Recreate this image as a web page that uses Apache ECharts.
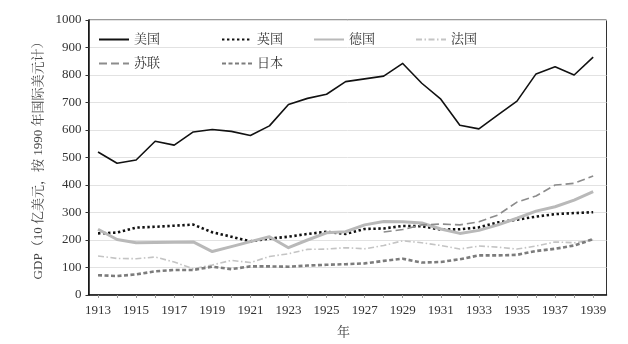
<!DOCTYPE html>
<html>
<head>
<meta charset="utf-8">
<script src="https://cdn.jsdelivr.net/npm/echarts@6/dist/echarts.min.js"></script>
<style>
  html, body { margin: 0; padding: 0; background: #fff; }
  #chart { width: 628px; height: 344px; }
</style>
</head>
<body>
<div id="chart"></div>
<script>
// GDP of six economies, 1913-1939 (billion 1990 international dollars)
const years = [1913, 1914, 1915, 1916, 1917, 1918, 1919, 1920, 1921, 1922, 1923, 1924, 1925, 1926,
               1927, 1928, 1929, 1930, 1931, 1932, 1933, 1934, 1935, 1936, 1937, 1938, 1939];
const labelYears = [1913, 1915, 1917, 1919, 1921, 1923, 1925, 1927, 1929, 1931, 1933, 1935, 1937, 1939];

const usa     = [520, 479, 491, 559, 545, 593, 602, 595, 580, 615, 693, 715, 730, 776, 786, 796, 842, 770, 712, 617, 604, 655, 705, 804, 830, 800, 865];
const uk      = [224, 227, 245, 248, 252, 256, 228, 212, 195, 205, 212, 222, 230, 222, 240, 242, 251, 250, 238, 239, 246, 264, 274, 285, 294, 298, 301];
const germany = [239, 202, 190, 191, 192, 193, 158, 176, 194, 212, 172, 200, 226, 230, 255, 267, 266, 262, 240, 224, 235, 255, 279, 305, 321, 345, 376];
const france  = [142, 133, 132, 138, 120, 95, 109, 126, 118, 140, 150, 166, 167, 172, 168, 180, 197, 190, 180, 167, 178, 174, 167, 178, 193, 190, 200];
const ussr    = [null, null, null, null, null, null, null, null, null, null, null, null, null, null,
                 null, 229, 238, 255, 258, 255, 266, 291, 338, 360, 400, 406, 433];
const japan   = [72, 69, 75, 86, 91, 91, 103, 94, 104, 104, 103, 107, 110, 112, 115, 124, 132, 118, 120, 130, 144, 144, 146, 160, 168, 180, 203];

const yTicks = [0, 100, 200, 300, 400, 500, 600, 700, 800, 900, 1000];

const FONT = '"Liberation Serif", "Noto Serif CJK SC", "Noto Sans CJK SC", serif';

function pairs(values) {
  return years.map((y, i) => [y, values[i]]);
}

const seriesDefs = [
  { name: '美国', data: usa,     color: '#111111', width: 1.6, type: 'solid' },
  { name: '英国', data: uk,      color: '#111111', width: 2.6, type: [2.4, 2.6] },
  { name: '德国', data: germany, color: '#b9b9b9', width: 3,   type: 'solid' },
  { name: '法国', data: france,  color: '#c4c4c4', width: 1.6, type: [6, 2.5, 1.5, 2.5] },
  { name: '苏联', data: ussr,    color: '#8c8c8c', width: 1.6, type: [8, 4] },
  { name: '日本', data: japan,   color: '#7c7c7c', width: 2.6, type: [4, 2.5] }
];

// one legend block per entry so each sits at its own spot inside the plot
const legendSpots = [
  { name: '美国', left: 98,  top: 33 },
  { name: '英国', left: 221, top: 33 },
  { name: '德国', left: 313, top: 33 },
  { name: '法国', left: 415, top: 33 },
  { name: '苏联', left: 98,  top: 57 },
  { name: '日本', left: 221, top: 57 }
];

const chart = echarts.init(document.getElementById('chart'), null, { renderer: 'canvas' });

chart.setOption({
  animation: false,
  backgroundColor: '#ffffff',
  textStyle: { fontFamily: FONT },
  grid: {
    left: 88.5, right: 21.5, top: 20, bottom: 49,
    show: true, borderColor: '#333', borderWidth: 1, backgroundColor: 'transparent'
  },
  legend: legendSpots.map(s => ({
    data: [s.name],
    left: s.left,
    top: s.top,
    padding: 0,
    itemWidth: 30,
    itemHeight: 12,
    // keep the line sample only, no marker dot on it
    itemStyle: { opacity: 0, borderWidth: 0 },
    textStyle: { fontSize: 13, color: '#333', fontFamily: FONT }
  })),
  xAxis: {
    type: 'value',
    min: 1912.5,
    max: 1939.7,
    name: '年',
    nameLocation: 'middle',
    nameGap: 31,
    nameTextStyle: { fontSize: 13, color: '#444', fontFamily: FONT, padding: [0, 8, 0, 0] },
    splitLine: { show: false },
    axisLine: { show: true, lineStyle: { color: '#111', width: 1.5 } },
    axisTick: { show: true, customValues: years, length: 3, lineStyle: { color: '#999' } },
    axisLabel: {
      customValues: labelYears,
      margin: 9,
      fontSize: 13,
      color: '#333',
      fontFamily: FONT,
      formatter: v => String(v)
    }
  },
  yAxis: {
    type: 'value',
    min: 0,
    max: 1000,
    interval: 100,
    name: 'GDP（10 亿美元，按 1990 年国际美元计）',
    nameLocation: 'middle',
    nameRotate: 90,
    nameGap: 42,
    nameTextStyle: { fontSize: 13, color: '#444', fontFamily: FONT },
    axisLine: { show: true, lineStyle: { color: '#111', width: 1.5 } },
    axisTick: { show: true, length: 3, lineStyle: { color: '#333' } },
    axisLabel: {
      margin: 7,
      fontSize: 13,
      color: '#333',
      fontFamily: FONT,
      formatter: v => (yTicks.indexOf(v) >= 0 ? String(v) : '')
    },
    splitLine: { show: true, lineStyle: { color: '#e2e2e2', width: 1 } }
  },
  series: seriesDefs.map(s => ({
    name: s.name,
    type: 'line',
    data: pairs(s.data),
    symbol: 'none',
    connectNulls: false,
    color: s.color,
    lineStyle: { color: s.color, width: s.width, type: s.type, cap: 'butt', join: 'round' },
    itemStyle: { color: s.color }
  }))
});
</script>
</body>
</html>
